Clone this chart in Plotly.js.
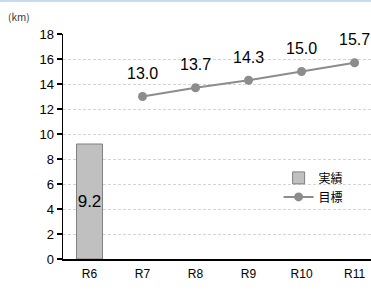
<!DOCTYPE html>
<html><head><meta charset="utf-8">
<script src="https://cdn.plot.ly/plotly-3.0.1.min.js"></script>
<style>html,body{margin:0;padding:0;background:#fff;}#bar{height:2px;background:#c6d9f0;width:371px;}#chart{width:371px;height:303px;}</style>
</head><body><div id="bar"></div><div id="chart"></div>
<script>
const categories = ['R6','R7','R8','R9','R10','R11'];
const actualCats = ['R6'];
const actualVals = [9.2];
const targetCats = ['R7','R8','R9','R10','R11'];
const targetVals = [13.0, 13.7, 14.3, 15.0, 15.7];
const yTicks = [0,2,4,6,8,10,12,14,16,18];
const F = '"Liberation Sans", Arial, "Noto Sans CJK JP", sans-serif';

const traces = [
  {type:'bar', name:'実績', x:actualCats, y:actualVals, width:0.49,
   marker:{color:'#c0c0c0', line:{color:'#808080', width:1}},
   text:actualVals.map(v=>v.toFixed(1)), textposition:'inside', insidetextanchor:'middle', textangle:0,
   constraintext:'none', cliponaxis:false,
   textfont:{size:17, color:'#000', family:F}, hoverinfo:'none'},
  {type:'scatter', mode:'lines+markers', name:'目標', x:targetCats, y:targetVals,
   line:{color:'#8c8c8c', width:2}, marker:{color:'#8c8c8c', size:9}, hoverinfo:'none'}
];
const annotations = targetCats.map((c,i)=>({x:c, y:targetVals[i], text:targetVals[i].toFixed(1),
  showarrow:false, yshift:23, font:{size:16, color:'#000', family:F}}));
annotations.push({xref:'paper', yref:'paper', x:(6-63)/308, y:1+17/225, xanchor:'left', yanchor:'middle',
  text:'(km)', showarrow:false, font:{size:10, color:'#333', family:'"Noto Sans CJK JP", sans-serif'}});

Plotly.newPlot('chart', traces, {
  width:371, height:303,
  margin:{l:63, r:0, t:32, b:46},
  paper_bgcolor:'#fff', plot_bgcolor:'#fff',
  showlegend:true,
  legend:{x:0.7, y:0.425, xanchor:'left', yanchor:'top', bgcolor:'rgba(0,0,0,0)',
    font:{size:12, color:'#000', family:'"Noto Sans CJK JP", sans-serif'}, tracegroupgap:0, itemwidth:30},
  xaxis:{type:'category', categoryarray:categories, categoryorder:'array', range:[-0.5, 5.31],
    showline:true, linecolor:'#000', linewidth:1.5, ticks:'', showgrid:false, ticklabelstandoff:3,
    tickfont:{size:12, color:'#000', family:F}, fixedrange:true},
  yaxis:{range:[0,18], tickvals:yTicks, showline:true, linecolor:'#000', linewidth:1.5,
    ticks:'outside', ticklen:5, tickcolor:'#000', tickwidth:1.5,
    showgrid:true, gridcolor:'#d4d4d4', griddash:'3px,2px', gridwidth:1, zeroline:false,
    tickfont:{size:13, color:'#000', family:F}, fixedrange:true},
  annotations:annotations
}, {staticPlot:true});
</script></body></html>
